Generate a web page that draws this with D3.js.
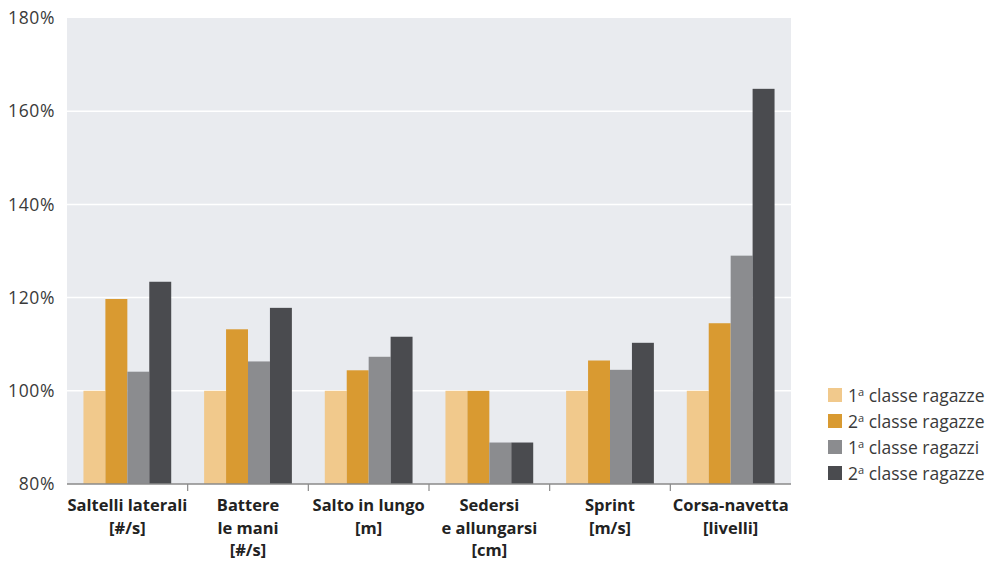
<!DOCTYPE html>
<html>
<head>
<meta charset="utf-8">
<script src="https://cdn.jsdelivr.net/npm/d3@7"></script>
<style>
  html, body { margin: 0; padding: 0; background: #ffffff; }
  svg { display: block; font-family: "Open Sans", "Noto Sans", sans-serif; }
</style>
</head>
<body>
<svg id="chart" width="988" height="562"></svg>
<script>
const categories = [
  ["Saltelli laterali", "[#/s]"],
  ["Battere", "le mani", "[#/s]"],
  ["Salto in lungo", "[m]"],
  ["Sedersi", "e allungarsi", "[cm]"],
  ["Sprint", "[m/s]"],
  ["Corsa-navetta", "[livelli]"]
];
const seriesNames = ["1ª classe ragazze", "2ª classe ragazze", "1ª classe ragazzi", "2ª classe ragazze"];
const girls1 = [100, 100, 100, 100, 100, 100];
const girls2 = [119.7, 113.2, 104.4, 100, 106.5, 114.5];
const boys1  = [104.1, 106.3, 107.3, 88.9, 104.5, 129.0];
const boys2  = [123.4, 117.8, 111.6, 88.9, 110.3, 164.8];
const yTicks = [80, 100, 120, 140, 160, 180];
const colors = ["#f1c98c", "#d99a31", "#8b8c8f", "#4a4b4f"];

(function () {
const series = [girls1, girls2, boys1, boys2];
const svg = d3.select("#chart");
const mLeft = 67, mRight = 791, mTop = 18, mBottom = 484;

const x0 = d3.scaleBand().domain(d3.range(categories.length)).range([mLeft, mRight]).paddingInner(0).paddingOuter(0);
const x1 = d3.scaleBand().domain(d3.range(series.length)).range([0, x0.bandwidth()]).paddingOuter(0.75).paddingInner(0);
const y = d3.scaleLinear().domain([80, 180]).range([mBottom, mTop]);

// plot background
svg.append("rect").attr("x", mLeft).attr("y", mTop).attr("width", mRight - mLeft).attr("height", mBottom - mTop)
  .attr("fill", "#e9ebef");

// gridlines
svg.append("g").selectAll("line").data(yTicks.filter(t => t > 80 && t < 180)).join("line")
  .attr("x1", mLeft).attr("x2", mRight)
  .attr("y1", d => y(d)).attr("y2", d => y(d))
  .attr("stroke", "#ffffff").attr("stroke-width", 1.5);

// bars
const groups = svg.append("g").selectAll("g").data(categories.map((c, i) => i)).join("g")
  .attr("transform", i => `translate(${x0(i)},0)`);
groups.selectAll("rect").data(i => series.map((s, k) => ({k, v: s[i]}))).join("rect")
  .attr("x", d => x1(d.k))
  .attr("width", x1.bandwidth())
  .attr("y", d => y(d.v))
  .attr("height", d => y(80) - y(d.v))
  .attr("fill", d => colors[d.k]);

// y axis labels
const yAxis = d3.axisLeft(y).tickValues(yTicks).tickSize(0).tickPadding(12).tickFormat(d => d + "%");
const yg = svg.append("g").attr("transform", `translate(${mLeft},0)`).call(yAxis);
yg.select(".domain").remove();
yg.selectAll("text").attr("font-size", 17.5).attr("fill", "#3a3a3a").attr("letter-spacing", "0.6px")
  .attr("font-family", "'Open Sans', sans-serif");

// x axis line and ticks
const xg = svg.append("g");
xg.append("line").attr("x1", mLeft).attr("x2", mRight).attr("y1", mBottom).attr("y2", mBottom)
  .attr("stroke", "#8a8a8a").attr("stroke-width", 1.5);
xg.selectAll("line.tk").data(d3.range(1, categories.length)).join("line").attr("class", "tk")
  .attr("x1", i => x0(i)).attr("x2", i => x0(i))
  .attr("y1", mBottom).attr("y2", mBottom + 7)
  .attr("stroke", "#8a8a8a").attr("stroke-width", 1.2);

// category labels
const lab = svg.append("g").selectAll("text").data(categories).join("text")
  .attr("x", (d, i) => x0(i) + x0.bandwidth() / 2)
  .attr("y", 511)
  .attr("text-anchor", "middle")
  .attr("font-size", 16.5).attr("font-weight", "bold").attr("fill", "#222");
lab.selectAll("tspan").data(d => d).join("tspan")
  .attr("x", function() { return d3.select(this.parentNode).attr("x"); })
  .attr("dy", (d, j) => j === 0 ? 0 : 22.5)
  .text(d => d);

// legend
const leg = svg.append("g").selectAll("g").data(seriesNames).join("g")
  .attr("transform", (d, i) => `translate(828,${388 + i * 26})`);
leg.append("rect").attr("width", 14).attr("height", 14).attr("fill", (d, i) => colors[i]);
const lt = leg.append("text").attr("x", 20).attr("y", 14).attr("font-size", 17.5).attr("fill", "#3a3a3a");
lt.append("tspan").text(d => d.charAt(0));
lt.append("tspan").attr("font-size", 11).attr("dy", -6).text("a");
lt.append("tspan").attr("dy", 6).text(d => " " + d.slice(3));
})();
</script>
</body>
</html>
